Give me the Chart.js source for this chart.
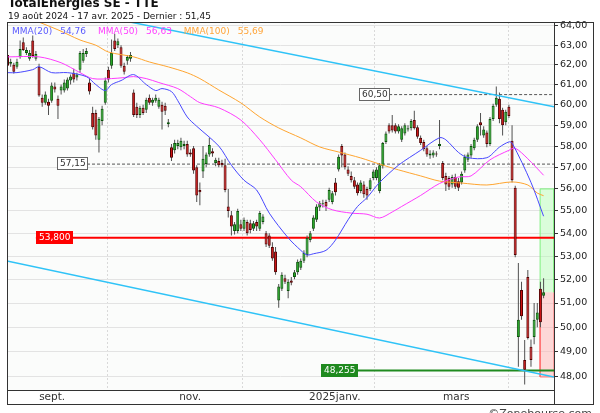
<!DOCTYPE html>
<html>
<head>
<meta charset="utf-8">
<script src="https://cdn.jsdelivr.net/npm/chart.js@4.4.1/dist/chart.umd.min.js"></script>
<style>
  html, body { margin: 0; padding: 0; background: #fff; }
  canvas { display: block; }
</style>
</head>
<body>
<canvas id="chart" width="600" height="413"></canvas>
<script>
// daily candles, 19 août 2024 .. 17 avr. 2025 (x = trading day index)
const opens = [
  62.5, 62.05, 62.0, 61.9, 62.4, 63.15, 62.6, 62.3, 63.25, 62.3,
  61.9, 60.35, 60.1, 60.15, 60.2, 60.9, 60.3, 60.7, 60.7, 60.8,
  61.2, 61.6, 61.35, 61.75, 62.2, 62.55, 61.1, 59.6, 59.6, 58.3,
  59.2, 60.1, 61.75, 61.95, 63.25, 63.0, 62.9, 61.95, 62.2, 62.3,
  60.6, 59.9, 59.5, 59.85, 59.75, 60.35, 60.1, 60.2, 59.9, 60.0,
  59.95, 59.05, 57.95, 57.8, 58.0, 57.95, 58.0, 58.1, 57.7, 57.9,
  57.0, 55.95, 56.8, 57.15, 57.6, 57.75, 57.2, 57.3, 57.2, 57.1,
  55.2, 54.8, 54.1, 54.1, 54.4, 54.2, 54.5, 54.45, 54.2, 54.5,
  54.2, 54.5, 54.0, 53.9, 53.4, 53.2, 51.1, 51.6, 52.05, 51.5,
  51.95, 52.1, 52.3, 52.5, 52.8, 53.05, 53.7, 54.2, 54.6, 55.15,
  55.3, 55.4, 55.5, 55.4, 56.3, 56.9, 58.0, 57.6, 56.9, 56.6,
  56.4, 56.2, 55.9, 56.2, 56.0, 56.0, 56.5, 56.5, 55.9, 57.05,
  58.2, 59.0, 59.0, 59.0, 58.7, 58.3, 58.6, 58.8, 58.85, 59.25,
  58.9, 58.4, 58.2, 57.9, 57.55, 57.55, 57.65, 58.0, 57.2, 56.6,
  56.5, 56.2, 56.55, 56.35, 56.3, 56.85, 57.35, 57.55, 57.9, 58.3,
  59.15, 58.5, 58.65, 58.1, 59.3, 60.0, 60.3, 59.75, 59.15, 59.9,
  58.25, 56.05, 49.6, 51.55, 48.67, 52.1, 49.2, 49.6, 50.3, 51.6, 51.3
];
const highs = [
  62.75, 62.3, 62.1, 62.3, 63.25, 63.4, 62.9, 62.75, 63.5, 62.7,
  62.05, 60.5, 60.65, 60.3, 61.1, 61.1, 60.45, 61.0, 61.25, 61.35,
  61.5, 61.8, 61.6, 62.7, 62.8, 62.85, 61.3, 59.9, 59.75, 59.4,
  59.95, 61.35, 61.9, 63.3, 63.6, 63.35, 63.0, 62.1, 62.5, 62.65,
  60.75, 60.1, 59.95, 60.0, 60.35, 60.5, 60.35, 60.5, 60.35, 60.15,
  60.1, 59.3, 58.1, 58.3, 58.3, 58.4, 58.25, 58.25, 57.85, 58.0,
  57.1, 56.3, 58.0, 57.7, 58.4, 57.9, 57.45, 57.45, 57.35, 57.4,
  56.0, 55.0, 54.5, 55.1, 54.6, 54.7, 54.6, 54.6, 54.55, 54.6,
  55.0, 54.85, 54.1, 54.0, 53.6, 53.4, 51.8, 52.3, 52.2, 52.0,
  52.1, 52.4, 52.85, 52.9, 53.25, 53.9, 54.1, 54.8, 55.3, 55.45,
  55.5, 55.5, 56.05, 55.9, 56.5, 57.6, 58.1, 57.7, 57.05, 56.8,
  56.55, 56.3, 56.4, 56.35, 56.1, 56.5, 56.9, 57.0, 57.2, 58.2,
  58.7, 59.1, 59.5, 59.1, 59.05, 58.95, 59.1, 59.0, 59.3, 59.7,
  59.0, 58.5, 58.3, 58.0, 57.8, 57.8, 57.75, 59.25, 57.3, 56.75,
  56.6, 56.65, 56.7, 56.5, 56.8, 57.6, 57.7, 58.1, 58.4, 59.05,
  59.6, 58.95, 58.75, 59.4, 60.05, 60.9, 60.6, 59.85, 59.75, 60.0,
  59.0, 56.15, 52.7, 51.9, 49.48, 52.4, 49.5, 51.0, 51.0, 51.9, 52.05
];
const lows = [
  61.8, 61.9, 61.55, 61.8, 62.3, 62.7, 62.5, 62.2, 62.35, 62.2,
  60.4, 59.9, 60.0, 59.5, 60.1, 60.6, 59.3, 60.5, 60.6, 60.7,
  61.0, 61.1, 61.2, 61.6, 62.1, 62.4, 60.5, 58.8, 58.3, 57.7,
  59.0, 60.0, 61.1, 61.8, 62.7, 62.85, 61.85, 61.5, 62.0, 62.15,
  59.4, 59.35, 59.35, 59.5, 59.6, 60.0, 59.95, 60.1, 59.8, 58.8,
  59.5, 58.9, 57.3, 57.65, 57.85, 57.8, 57.85, 57.5, 57.5, 56.7,
  55.4, 55.25, 56.5, 57.0, 57.5, 57.5, 57.05, 57.0, 57.0, 55.85,
  54.7, 53.9, 53.95, 54.0, 54.1, 54.1, 53.9, 54.0, 54.1, 54.1,
  54.1, 54.4, 53.4, 53.35, 52.8, 52.2, 50.8, 51.5, 51.8, 51.2,
  51.75, 52.0, 52.2, 52.4, 52.7, 52.95, 53.6, 54.1, 54.5, 55.0,
  55.15, 55.0, 55.4, 55.3, 55.7, 56.8, 57.0, 56.9, 56.6, 56.3,
  56.0, 55.7, 55.8, 55.6, 55.5, 55.9, 56.4, 56.4, 55.8, 56.95,
  58.1, 58.6, 58.65, 58.6, 58.6, 58.2, 58.5, 58.7, 58.75, 58.8,
  58.35, 58.05, 57.75, 57.5, 57.4, 57.45, 57.5, 57.85, 56.4, 55.9,
  55.95, 56.05, 56.0, 55.9, 56.2, 56.75, 57.25, 57.45, 57.8, 58.2,
  58.5, 58.4, 57.95, 58.0, 59.2, 59.9, 59.1, 58.5, 59.0, 59.35,
  56.3, 52.95, 48.4, 50.3, 47.7, 49.5, 48.4, 49.3, 50.0, 50.0, 51.2
];
const closes = [
  61.95, 62.15, 61.65, 62.15, 62.8, 62.75, 62.75, 62.6, 62.45, 62.55,
  60.45, 60.1, 60.5, 59.95, 60.95, 60.75, 59.95, 60.9, 61.1, 61.25,
  61.4, 61.25, 61.5, 62.6, 62.6, 62.7, 60.65, 58.9, 58.5, 59.3,
  59.8, 61.2, 61.25, 62.6, 62.8, 63.2, 61.95, 61.65, 62.4, 62.5,
  59.5, 59.5, 59.85, 59.6, 60.25, 60.1, 60.25, 60.35, 60.25, 59.65,
  59.7, 59.15, 57.45, 58.15, 58.15, 58.25, 58.1, 57.6, 57.6, 56.85,
  55.7, 55.85, 57.4, 57.6, 58.05, 57.65, 57.35, 57.1, 57.1, 55.95,
  55.0, 54.3, 54.4, 55.0, 54.2, 54.6, 54.0, 54.15, 54.45, 54.3,
  54.9, 54.75, 53.5, 53.45, 52.9, 52.3, 51.7, 52.2, 51.9, 51.9,
  51.85, 52.3, 52.75, 52.8, 53.15, 53.8, 54.0, 54.7, 55.2, 55.35,
  55.35, 55.2, 55.95, 55.8, 55.85, 57.5, 57.55, 57.0, 56.7, 56.4,
  56.1, 55.8, 56.3, 55.75, 55.7, 56.4, 56.8, 56.9, 57.1, 58.15,
  58.6, 58.7, 58.75, 58.7, 58.95, 58.85, 59.0, 58.85, 59.2, 58.85,
  58.45, 58.15, 57.85, 57.6, 57.65, 57.7, 57.6, 58.1, 56.5, 56.2,
  56.1, 56.55, 56.1, 56.05, 56.7, 57.5, 57.6, 58.0, 58.3, 58.95,
  59.0, 58.8, 58.1, 59.3, 59.95, 60.35, 59.3, 59.0, 59.65, 59.45,
  56.4, 53.05, 50.3, 50.45, 48.28, 49.56, 48.67, 50.3, 50.6, 50.2, 51.45
];

// moving averages
const ma20Day = [0, 3, 8, 10, 14, 19, 25, 28, 31, 33, 36, 40, 44, 47, 49, 52, 54, 57, 60, 67, 71, 75, 79, 83, 89, 93, 95, 97, 101, 104, 108, 111, 114, 118, 124, 131, 137, 139, 143, 146, 152, 156, 159, 160, 166, 170];
const ma20Val = [61.6, 61.6, 61.75, 61.9, 61.6, 61.6, 61.4, 61.0, 60.7, 61.0, 61.2, 61.5, 61.0, 60.7, 60.8, 60.65, 60.2, 59.4, 58.95, 58.0, 57.1, 56.4, 55.95, 54.9, 53.8, 53.25, 53.05, 53.1, 53.25, 53.7, 54.6, 55.2, 55.6, 56.3, 57.1, 57.8, 58.4, 58.3, 57.7, 57.45, 57.45, 57.95, 58.2, 58.15, 56.3, 54.76];
const ma50Day = [0, 10, 17, 23, 27, 33, 37, 40, 44, 48, 54, 58, 61, 67, 74, 80, 85, 90, 93, 98, 103, 109, 114, 118, 122, 125, 131, 137, 143, 147, 153, 159, 161, 165, 170];
const ma50Val = [62.4, 62.4, 62.1, 61.6, 61.3, 61.3, 61.35, 61.4, 61.3, 61.1, 60.8, 60.4, 60.1, 59.85, 59.25, 58.3, 57.35, 56.4, 56.1, 55.4, 55.05, 54.9, 54.85, 54.68, 54.95, 55.2, 55.7, 56.25, 56.55, 56.6, 57.35, 57.8, 57.9, 57.4, 56.63];
const ma100Day = [4, 16, 23, 28, 32, 40, 45, 51, 57, 61, 67, 74, 80, 86, 93, 99, 105, 112, 118, 124, 131, 137, 144, 152, 160, 165, 168, 170];
const ma100Val = [64.6, 63.8, 63.27, 63.0, 62.65, 62.4, 62.14, 61.89, 61.59, 61.3, 60.73, 60.09, 59.4, 58.87, 58.39, 57.96, 57.72, 57.44, 57.15, 56.88, 56.6, 56.36, 56.27, 56.18, 56.32, 56.18, 55.81, 55.69];

// trend channel (two anchor points each)
const upperTrendDay = [37.3, 173.3];
const upperTrendVal = [64.26, 59.9];
const lowerTrendDay = [-0.16, 173.3];
const lowerTrendVal = [52.79, 48.0];

// horizontal levels and target zone
const levelValues = [60.5, 57.15, 53.8, 48.255];
const levelLabels = ['60,50', '57,15', '53,800', '48,255'];
const targetHigh = 56.0;
const targetLow = 48.0;

const yTicks = [48, 49, 50, 51, 52, 53, 54, 55, 56, 57, 58, 59, 60, 61, 62, 63, 64];
const monthTicks = [9.4, 53.8, 95, 137.5];
const monthLabels = ['sept.', 'nov.', '2025janv.', 'mars'];

const xMin = -0.16, xMax = 173.3;
const yMin = 47.49, yMax = 64.21;
const zoneFrom = 168.9;

const levelStyle = [
  { at: 111.5, line: '#555', width: 1, dash: [3, 2], bg: '#fff', fg: '#333', edge: '#666' },
  { at: 15.7, line: '#555', width: 1, dash: [3, 2], bg: '#fff', fg: '#333', edge: '#666' },
  { at: 9.0, line: '#ff0000', width: 2, dash: [], bg: '#ff0000', fg: '#fff', edge: null },
  { at: 99.4, line: '#1f8a1f', width: 2, dash: [], bg: '#1f8a1f', fg: '#fff', edge: null }
];

const FONT = "'DejaVu Sans', Verdana, sans-serif";
const fmt = (v, d) => v.toFixed(d).replace('.', ',');
const pts = (xs, ys) => xs.map((x, i) => ({ x: x, y: ys[i] }));

const days = closes.map((_, i) => i);
const isUp = days.map((i) => closes[i] >= opens[i]);
const last = closes.length - 1;

const levelSets = levelValues.map((v, k) => ({
  type: 'line',
  data: [{ x: levelStyle[k].at, y: v }, { x: xMax, y: v }],
  borderColor: levelStyle[k].line,
  borderWidth: levelStyle[k].width,
  borderDash: levelStyle[k].dash,
  pointRadius: 0,
  order: 4
}));

const zone = (edge) => [
  { x: zoneFrom, y: closes[last] }, { x: zoneFrom, y: edge },
  { x: xMax, y: edge }, { x: xMax, y: closes[last] }
];

const decor = {
  id: 'decor',
  beforeDraw(chart) {
    const { ctx, chartArea: a } = chart;
    ctx.save();
    ctx.fillStyle = '#ffffff';
    ctx.fillRect(0, 0, chart.width, chart.height);
    ctx.fillStyle = '#fbfcfb';
    ctx.fillRect(a.left, a.top, a.right - a.left, a.bottom - a.top);
    ctx.restore();
  },
  afterDatasetsDraw(chart) {
    const { ctx } = chart;
    const xs = chart.scales.x, ys = chart.scales.y;
    ctx.save();
    ctx.font = '9px ' + FONT;
    ctx.textBaseline = 'middle';
    levelValues.forEach((v, k) => {
      const st = levelStyle[k];
      const y = Math.round(ys.getPixelForValue(v));
      const x = Math.round(xs.getPixelForValue(st.at));
      const w = Math.ceil(ctx.measureText(levelLabels[k]).width) + 5;
      ctx.fillStyle = st.bg;
      ctx.fillRect(x, y - 7, w, 13);
      if (st.edge) {
        ctx.strokeStyle = st.edge;
        ctx.lineWidth = 1;
        ctx.strokeRect(x + 0.5, y - 6.5, w - 1, 12);
      }
      ctx.fillStyle = st.fg;
      ctx.fillText(levelLabels[k], x + 3, y);
    });
    ctx.restore();
  },
  afterDraw(chart) {
    const { ctx, chartArea: a } = chart;
    ctx.save();
    // frame
    ctx.strokeStyle = '#333';
    ctx.lineWidth = 1;
    ctx.strokeRect(a.left + 0.5, a.top + 0.5, 593 - a.left, 404 - a.top);
    ctx.beginPath();
    ctx.moveTo(a.right + 0.5, a.bottom);
    ctx.lineTo(a.right + 0.5, 404);
    ctx.stroke();

    // titles
    ctx.fillStyle = '#111';
    ctx.textBaseline = 'alphabetic';
    ctx.font = 'bold 12px ' + FONT;
    ctx.fillText('TotalEnergies SE - TTE', 8, 7);
    ctx.font = '9px ' + FONT;
    ctx.fillText('19 août 2024 - 17 avr. 2025 - Dernier : ' + fmt(closes[last], 2), 8, 19);

    // moving average legend
    const items = [
      ['MMA(20)', ma20Val, '#5b5bff'],
      ['MMA(50)', ma50Val, '#ff40ff'],
      ['MMA(100)', ma100Val, '#ffa53a']
    ];
    let x = a.left + 5;
    items.forEach(([name, vals, col]) => {
      ctx.fillStyle = col;
      ctx.fillText(name, x, a.top + 12);
      x += ctx.measureText(name).width + 8;
      const val = fmt(vals[vals.length - 1], 2);
      ctx.fillText(val, x, a.top + 12);
      x += ctx.measureText(val).width + 12;
    });

    // source
    ctx.fillStyle = '#444';
    ctx.font = '11px ' + FONT;
    ctx.textAlign = 'right';
    ctx.fillText('©Zonebourse.com', 592, 417);
    ctx.restore();
  }
};

Chart.defaults.font.family = FONT;

new Chart(document.getElementById('chart'), {
  type: 'bar',
  data: {
    datasets: [
      { type: 'line', data: pts(ma20Day, ma20Val), borderColor: '#4848ff', borderWidth: 1, pointRadius: 0, tension: 0.3, order: 0 },
      { type: 'line', data: pts(ma50Day, ma50Val), borderColor: '#ff3cff', borderWidth: 1, pointRadius: 0, tension: 0.3, order: 0 },
      { type: 'line', data: pts(ma100Day, ma100Val), borderColor: '#ffa530', borderWidth: 1, pointRadius: 0, tension: 0.3, order: 0 },
      { type: 'line', data: pts(upperTrendDay, upperTrendVal), borderColor: '#2fc3f7', borderWidth: 1.5, pointRadius: 0, order: 1 },
      { type: 'line', data: pts(lowerTrendDay, lowerTrendVal), borderColor: '#2fc3f7', borderWidth: 1.5, pointRadius: 0, order: 1 },
      {
        data: days.map((i) => ({ x: i, y: [opens[i], closes[i]] })),
        backgroundColor: days.map((i) => (isUp[i] ? '#22b022' : '#d41212')),
        borderColor: days.map((i) => (isUp[i] ? '#0a520a' : '#520000')),
        borderWidth: 1,
        borderSkipped: false,
        grouped: false,
        barPercentage: 1,
        categoryPercentage: 0.95,
        minBarLength: 1,
        order: 2
      },
      {
        data: days.map((i) => ({ x: i, y: [lows[i], highs[i]] })),
        backgroundColor: '#505050',
        grouped: false,
        maxBarThickness: 1,
        order: 3
      },
      ...levelSets,
      {
        type: 'line', data: zone(targetHigh), fill: { value: closes[last] },
        backgroundColor: 'rgba(170,255,170,0.4)', borderColor: '#7ef07e', borderWidth: 1,
        pointRadius: 0, order: 5
      },
      {
        type: 'line', data: zone(targetLow), fill: { value: closes[last] },
        backgroundColor: 'rgba(255,180,180,0.5)', borderColor: '#ff7070', borderWidth: 1,
        pointRadius: 0, order: 5
      }
    ]
  },
  options: {
    responsive: false,
    animation: false,
    devicePixelRatio: 1,
    events: [],
    layout: { padding: { left: 7, right: 6, top: 22, bottom: 9 } },
    plugins: { legend: { display: false }, tooltip: { enabled: false } },
    scales: {
      x: {
        type: 'linear',
        offset: false,
        min: xMin,
        max: xMax,
        afterBuildTicks: (s) => { s.ticks = monthTicks.map((v) => ({ value: v })); },
        afterFit: (s) => { s.height = 14; },
        ticks: {
          autoSkip: false,
          maxRotation: 0,
          align: 'start',
          labelOffset: 2,
          padding: 1,
          color: '#333',
          font: { size: 10.5 },
          callback: (v) => monthLabels[monthTicks.findIndex((m) => Math.abs(m - v) < 0.01)]
        },
        grid: { color: '#d9d9d9', drawTicks: false },
        border: { color: '#333', dash: [2, 2] }
      },
      y: {
        type: 'logarithmic',
        position: 'right',
        min: yMin,
        max: yMax,
        afterBuildTicks: (s) => { s.ticks = yTicks.map((v) => ({ value: v })); },
        afterFit: (s) => { s.width = 40; },
        ticks: {
          autoSkip: false,
          padding: 2,
          color: '#222',
          font: { size: 9.5 },
          callback: (v) => fmt(v, 2)
        },
        grid: { color: '#e3e3e3', tickColor: '#333', tickLength: 4 },
        border: { color: '#333' }
      }
    }
  },
  plugins: [decor]
});
</script>
</body>
</html>
